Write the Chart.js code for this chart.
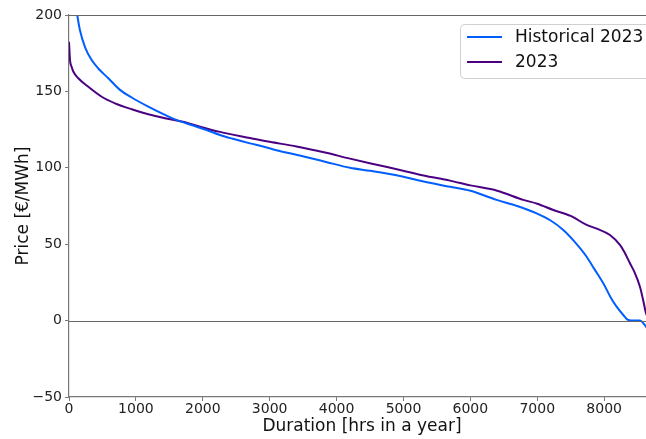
<!DOCTYPE html>
<html><head><meta charset="utf-8">
<script src="https://cdn.jsdelivr.net/npm/chart.js@4"></script>
<style>
html,body{margin:0;padding:0;background:#fff;overflow:hidden;width:646px;height:439px;}
#wrap{position:relative;width:660px;height:439px;}
</style></head><body>
<div id="wrap"><canvas id="c" width="660" height="439"></canvas></div>
<script>
const seriesNames = ["Historical 2023", "2023"];
const histHours = [0, 40, 80, 124, 164, 239, 339, 438, 588, 762, 937, 1185, 1435, 1584, 1760, 1900, 2058, 2257, 2450, 2706, 2900, 3100, 3400, 3827, 4200, 4500, 4948, 5300, 5695, 6000, 6393, 6700, 6991, 7200, 7389, 7550, 7738, 7850, 7987, 8100, 8186, 8280, 8360, 8450, 8535, 8600, 8625, 8700, 8760];
const histPrice = [260, 235, 215, 200, 190, 179, 170.5, 165, 158.6, 151, 146, 140, 134.6, 131.7, 129, 127, 124.7, 121.5, 119, 116, 114, 111.5, 108.5, 104, 100, 98, 94.6, 91, 87.6, 85, 79, 75, 70.2, 65.5, 59.3, 52, 41.8, 34, 24.4, 15, 9.1, 4, 0.4, 0, 0, -2.5, -4, -8, -12];
const curHours = [0, 15, 40, 64, 139, 289, 489, 688, 937, 1185, 1435, 1760, 1958, 2257, 2706, 3000, 3400, 3827, 4200, 4600, 4948, 5300, 5695, 6000, 6400, 6791, 7000, 7240, 7500, 7738, 7900, 8087, 8236, 8300, 8386, 8450, 8535, 8580, 8625, 8700, 8760];
const curPrice = [182.5, 170.5, 166, 163, 158.6, 153, 146.5, 142.2, 138.3, 135, 132.4, 129.5, 126.9, 123.5, 119.5, 117, 114, 110, 106, 102, 98.6, 95, 91.6, 88.5, 85, 79, 76.5, 72.4, 68.5, 62.6, 60, 56, 49.5, 45, 37.5, 32, 22.2, 14, 5, -3, -8];
const xTicks = [0, 1000, 2000, 3000, 4000, 5000, 6000, 7000, 8000];
const yTicks = [-50, 0, 50, 100, 150, 200];
const colors = ["#005eff", "#4b0082"];

const FONT = "'DejaVu Sans', sans-serif";
const spine = "#777";

const toPts = (h, p) => h.map((x, i) => ({x: x, y: p[i]}));

const decor = {
  id: 'decor',
  afterDatasetsDraw(chart) {
    const {ctx, chartArea: a, scales} = chart;
    ctx.save();
    ctx.strokeStyle = "#666"; ctx.lineWidth = 1.2;
    ctx.beginPath(); ctx.moveTo(a.left, a.top + 0.5); ctx.lineTo(a.right, a.top + 0.5); ctx.stroke();
    const y0 = Math.round(scales.y.getPixelForValue(0)) + 0.5;
    ctx.beginPath(); ctx.moveTo(a.left, y0); ctx.lineTo(a.right, y0); ctx.stroke();
    ctx.restore();
  },
  afterDraw(chart) {
    const {ctx} = chart;
    ctx.save();
    const bx = 460.5, by = 24.5, bw = 300, bh = 54, r = 4;
    ctx.fillStyle = "rgba(255,255,255,0.85)";
    ctx.strokeStyle = "#d0d0d0"; ctx.lineWidth = 1;
    ctx.beginPath();
    ctx.moveTo(bx + r, by); ctx.lineTo(bx + bw - r, by);
    ctx.arcTo(bx + bw, by, bx + bw, by + r, r);
    ctx.lineTo(bx + bw, by + bh - r);
    ctx.arcTo(bx + bw, by + bh, bx + bw - r, by + bh, r);
    ctx.lineTo(bx + r, by + bh);
    ctx.arcTo(bx, by + bh, bx, by + bh - r, r);
    ctx.lineTo(bx, by + r);
    ctx.arcTo(bx, by, bx + r, by, r);
    ctx.closePath(); ctx.fill(); ctx.stroke();
    const rows = [37, 62];
    ctx.font = "17px " + FONT;
    ctx.textBaseline = "middle";
    chart.data.datasets.forEach((ds, i) => {
      ctx.strokeStyle = ds.borderColor; ctx.lineWidth = 2;
      ctx.beginPath(); ctx.moveTo(467, rows[i]); ctx.lineTo(502, rows[i]); ctx.stroke();
      ctx.fillStyle = "#111";
      ctx.fillText(ds.label, 515, rows[i] + 1);
    });
    ctx.restore();
  }
};

new Chart(document.getElementById('c'), {
  type: 'line',
  data: {
    datasets: [
      {label: seriesNames[0], data: toPts(histHours, histPrice), borderColor: colors[0], borderWidth: 2, pointRadius: 0, cubicInterpolationMode: 'monotone', fill: false},
      {label: seriesNames[1], data: toPts(curHours, curPrice), borderColor: colors[1], borderWidth: 2, pointRadius: 0, cubicInterpolationMode: 'monotone', fill: false}
    ]
  },
  options: {
    responsive: false,
    animation: false,
    events: [],
    layout: {padding: {top: 15, right: 5, left: 0, bottom: 0}},
    plugins: {legend: {display: false}, tooltip: {enabled: false}},
    scales: {
      x: {
        type: 'linear', min: 0, max: 8760,
        afterBuildTicks(s) { s.ticks = xTicks.map(v => ({value: v})); },
        afterFit(s) { s.height = 42; },
        ticks: {font: {family: FONT, size: 14}, color: "#222", padding: 0, maxRotation: 0, callback: v => String(v)},
        grid: {display: true, drawOnChartArea: false, drawTicks: true, tickLength: 4, color: spine},
        border: {display: true, color: spine, width: 1.2},
        title: {display: true, text: "Duration [hrs in a year]", font: {family: FONT, size: 17}, color: "#111", padding: {top: 0, bottom: 2}}
      },
      y: {
        type: 'linear', min: -50, max: 200,
        afterBuildTicks(s) { s.ticks = yTicks.map(v => ({value: v})); },
        afterFit(s) { s.width = 69; },
        ticks: {font: {family: FONT, size: 14}, color: "#222", padding: 3, callback: v => v < 0 ? "\u2212" + Math.abs(v) : String(v)},
        grid: {display: true, drawOnChartArea: false, drawTicks: true, tickLength: 4, color: spine},
        border: {display: true, color: spine, width: 1.2},
        title: {display: true, text: "Price [€/MWh]", font: {family: FONT, size: 17}, color: "#111", padding: {top: 13, bottom: 4}}
      }
    }
  },
  plugins: [decor]
});
</script>
</body></html>
